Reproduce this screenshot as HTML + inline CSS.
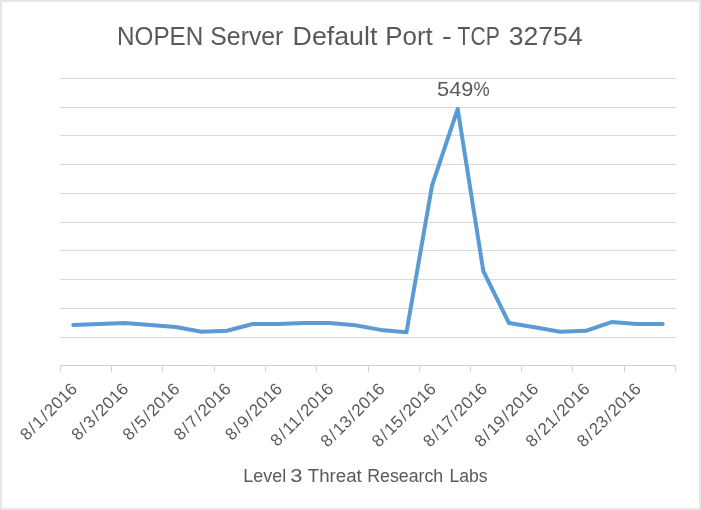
<!DOCTYPE html>
<html><head><meta charset="utf-8"><title>NOPEN Server Default Port - TCP 32754</title>
<style>
html,body{margin:0;padding:0;background:#fff;}
body{width:701px;height:510px;overflow:hidden;font-family:"Liberation Sans",sans-serif;}
svg{display:block;font-family:"Liberation Sans",sans-serif;will-change:transform;}
text{fill:#595959;}
</style></head><body>
<svg width="701" height="510" viewBox="0 0 701 510">
<rect x="0" y="0" width="701" height="510" fill="#e6e6e6"/>
<rect x="2" y="2" width="697" height="506" fill="#ffffff"/>
<rect x="60" y="78" width="616" height="1" fill="#d9d9d9"/>
<rect x="60" y="107" width="616" height="1" fill="#d9d9d9"/>
<rect x="60" y="135" width="616" height="1" fill="#d9d9d9"/>
<rect x="60" y="164" width="616" height="1" fill="#d9d9d9"/>
<rect x="60" y="193" width="616" height="1" fill="#d9d9d9"/>
<rect x="60" y="222" width="616" height="1" fill="#d9d9d9"/>
<rect x="60" y="250" width="616" height="1" fill="#d9d9d9"/>
<rect x="60" y="279" width="616" height="1" fill="#d9d9d9"/>
<rect x="60" y="308" width="616" height="1" fill="#d9d9d9"/>
<rect x="60" y="337" width="616" height="1" fill="#d9d9d9"/>
<rect x="60" y="365" width="616" height="1" fill="#d0d0d0"/>
<rect x="60" y="365" width="1" height="7" fill="#d2d2d2"/>
<rect x="111" y="365" width="1" height="7" fill="#d2d2d2"/>
<rect x="162" y="365" width="1" height="7" fill="#d2d2d2"/>
<rect x="214" y="365" width="1" height="7" fill="#d2d2d2"/>
<rect x="265" y="365" width="1" height="7" fill="#d2d2d2"/>
<rect x="316" y="365" width="1" height="7" fill="#d2d2d2"/>
<rect x="368" y="365" width="1" height="7" fill="#d2d2d2"/>
<rect x="419" y="365" width="1" height="7" fill="#d2d2d2"/>
<rect x="470" y="365" width="1" height="7" fill="#d2d2d2"/>
<rect x="521" y="365" width="1" height="7" fill="#d2d2d2"/>
<rect x="572" y="365" width="1" height="7" fill="#d2d2d2"/>
<rect x="624" y="365" width="1" height="7" fill="#d2d2d2"/>
<rect x="675" y="365" width="1" height="7" fill="#d2d2d2"/>
<polyline points="73.31,325.00 98.94,323.90 124.56,323.00 150.19,325.00 175.81,327.00 201.44,331.80 227.06,330.80 252.69,324.00 278.31,324.00 303.94,323.00 329.56,323.00 355.19,325.20 380.81,329.90 406.44,332.30 432.06,185.50 457.69,109.00 483.31,271.00 508.94,323.00 534.56,327.20 560.19,331.70 585.81,330.80 611.44,322.10 637.06,324.00 662.69,324.00" fill="none" stroke="#5b9bd5" stroke-width="4" stroke-linejoin="round" stroke-linecap="round"/>
<text x="117.07" y="44.8" font-size="25.9" textLength="86.22" lengthAdjust="spacingAndGlyphs">NOPEN</text>
<text x="210.34" y="44.8" font-size="25.9" textLength="72.98" lengthAdjust="spacingAndGlyphs">Server</text>
<text x="292.57" y="44.8" font-size="25.9" textLength="84.85" lengthAdjust="spacingAndGlyphs">Default</text>
<text x="385.28" y="44.8" font-size="25.9" textLength="47.50" lengthAdjust="spacingAndGlyphs">Port</text>
<text x="442.02" y="44.8" font-size="25.9" textLength="9.76" lengthAdjust="spacingAndGlyphs">-</text>
<text x="457.56" y="44.8" font-size="25.9" textLength="42.18" lengthAdjust="spacingAndGlyphs">TCP</text>
<text x="508.75" y="44.8" font-size="25.9" textLength="73.96" lengthAdjust="spacingAndGlyphs">32754</text>
<text x="243.30" y="481.6" font-size="18.3" textLength="42.88" lengthAdjust="spacingAndGlyphs">Level</text>
<text x="290.29" y="481.6" font-size="18.3" textLength="12.19" lengthAdjust="spacingAndGlyphs">3</text>
<text x="307.84" y="481.6" font-size="18.3" textLength="53.96" lengthAdjust="spacingAndGlyphs">Threat</text>
<text x="367.30" y="481.6" font-size="18.3" textLength="75.94" lengthAdjust="spacingAndGlyphs">Research</text>
<text x="449.42" y="481.6" font-size="18.3" textLength="38.14" lengthAdjust="spacingAndGlyphs">Labs</text>
<text x="437.12" y="95.6" font-size="20.8" textLength="36.28" lengthAdjust="spacingAndGlyphs">549</text>
<text x="473.47" y="95.6" font-size="20.8" textLength="16.18" lengthAdjust="spacingAndGlyphs">%</text>
<text transform="translate(78.21,390.00) rotate(-45)" text-anchor="end" font-size="17" letter-spacing="0.15">8<tspan dx="1.3">/</tspan><tspan dx="1.3">1</tspan><tspan dx="1.3">/</tspan><tspan dx="1.3">2016</tspan></text>
<text transform="translate(129.46,390.00) rotate(-45)" text-anchor="end" font-size="17" letter-spacing="0.15">8<tspan dx="1.3">/</tspan><tspan dx="1.3">3</tspan><tspan dx="1.3">/</tspan><tspan dx="1.3">2016</tspan></text>
<text transform="translate(180.71,390.00) rotate(-45)" text-anchor="end" font-size="17" letter-spacing="0.15">8<tspan dx="1.3">/</tspan><tspan dx="1.3">5</tspan><tspan dx="1.3">/</tspan><tspan dx="1.3">2016</tspan></text>
<text transform="translate(231.96,390.00) rotate(-45)" text-anchor="end" font-size="17" letter-spacing="0.15">8<tspan dx="1.3">/</tspan><tspan dx="1.3">7</tspan><tspan dx="1.3">/</tspan><tspan dx="1.3">2016</tspan></text>
<text transform="translate(283.21,390.00) rotate(-45)" text-anchor="end" font-size="17" letter-spacing="0.15">8<tspan dx="1.3">/</tspan><tspan dx="1.3">9</tspan><tspan dx="1.3">/</tspan><tspan dx="1.3">2016</tspan></text>
<text transform="translate(334.46,390.00) rotate(-45)" text-anchor="end" font-size="17" letter-spacing="0.15">8<tspan dx="1.3">/</tspan><tspan dx="1.3">11</tspan><tspan dx="1.3">/</tspan><tspan dx="1.3">2016</tspan></text>
<text transform="translate(385.71,390.00) rotate(-45)" text-anchor="end" font-size="17" letter-spacing="0.15">8<tspan dx="1.3">/</tspan><tspan dx="1.3">13</tspan><tspan dx="1.3">/</tspan><tspan dx="1.3">2016</tspan></text>
<text transform="translate(436.96,390.00) rotate(-45)" text-anchor="end" font-size="17" letter-spacing="0.15">8<tspan dx="1.3">/</tspan><tspan dx="1.3">15</tspan><tspan dx="1.3">/</tspan><tspan dx="1.3">2016</tspan></text>
<text transform="translate(488.21,390.00) rotate(-45)" text-anchor="end" font-size="17" letter-spacing="0.15">8<tspan dx="1.3">/</tspan><tspan dx="1.3">17</tspan><tspan dx="1.3">/</tspan><tspan dx="1.3">2016</tspan></text>
<text transform="translate(539.46,390.00) rotate(-45)" text-anchor="end" font-size="17" letter-spacing="0.15">8<tspan dx="1.3">/</tspan><tspan dx="1.3">19</tspan><tspan dx="1.3">/</tspan><tspan dx="1.3">2016</tspan></text>
<text transform="translate(590.71,390.00) rotate(-45)" text-anchor="end" font-size="17" letter-spacing="0.15">8<tspan dx="1.3">/</tspan><tspan dx="1.3">21</tspan><tspan dx="1.3">/</tspan><tspan dx="1.3">2016</tspan></text>
<text transform="translate(641.96,390.00) rotate(-45)" text-anchor="end" font-size="17" letter-spacing="0.15">8<tspan dx="1.3">/</tspan><tspan dx="1.3">23</tspan><tspan dx="1.3">/</tspan><tspan dx="1.3">2016</tspan></text>
</svg>
</body></html>
